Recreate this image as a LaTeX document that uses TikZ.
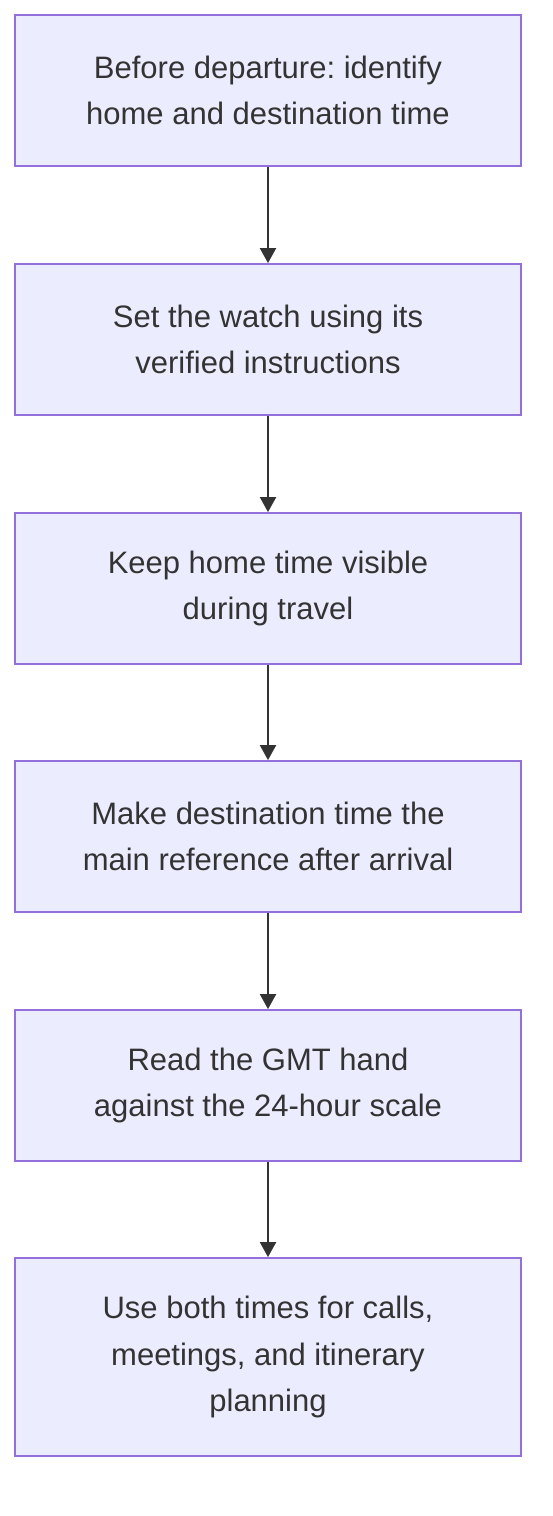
\documentclass[tikz,border=0pt]{standalone}
\usepackage{fontspec}
\setmainfont{Liberation Sans}
\usetikzlibrary{arrows.meta}
\definecolor{boxfill}{HTML}{ECECFF}
\definecolor{boxline}{HTML}{9370DB}
\definecolor{txt}{HTML}{333333}
\frenchspacing
\tikzset{
  stepbox/.style={draw=boxline, fill=boxfill, line width=1.8pt, minimum width=506pt, inner sep=0pt,
    text=txt, align=center, font=\fontsize{31pt}{46.5pt}\selectfont},
  flow/.style={draw=txt, line width=2pt, -{Triangle[width=16pt,length=15pt]}}
}
\begin{document}
\begin{tikzpicture}[x=1pt,y=1pt]
\useasboundingbox (0,0) rectangle (552,-1516);
\node[stepbox, minimum height=151pt] (a) at (268,-90.5) {Before departure: identify\\home and destination time};
\node[stepbox, minimum height=151pt] (b) at (268,-339.5) {Set the watch using its\\verified instructions};
\node[stepbox, minimum height=151pt] (c) at (268,-588.5) {Keep home time visible\\during travel};
\node[stepbox, minimum height=151pt] (d) at (268,-836.5) {Make destination time the\\main reference after arrival};
\node[stepbox, minimum height=151pt] (e) at (268,-1085.5) {Read the GMT hand\\against the 24-hour scale};
\node[stepbox, minimum height=198pt] (f) at (268,-1357) {Use both times for calls,\\meetings, and itinerary\\planning};
\draw[flow] (a) -- (b);
\draw[flow] (b) -- (c);
\draw[flow] (c) -- (d);
\draw[flow] (d) -- (e);
\draw[flow] (e) -- (f);
\end{tikzpicture}
\end{document}
